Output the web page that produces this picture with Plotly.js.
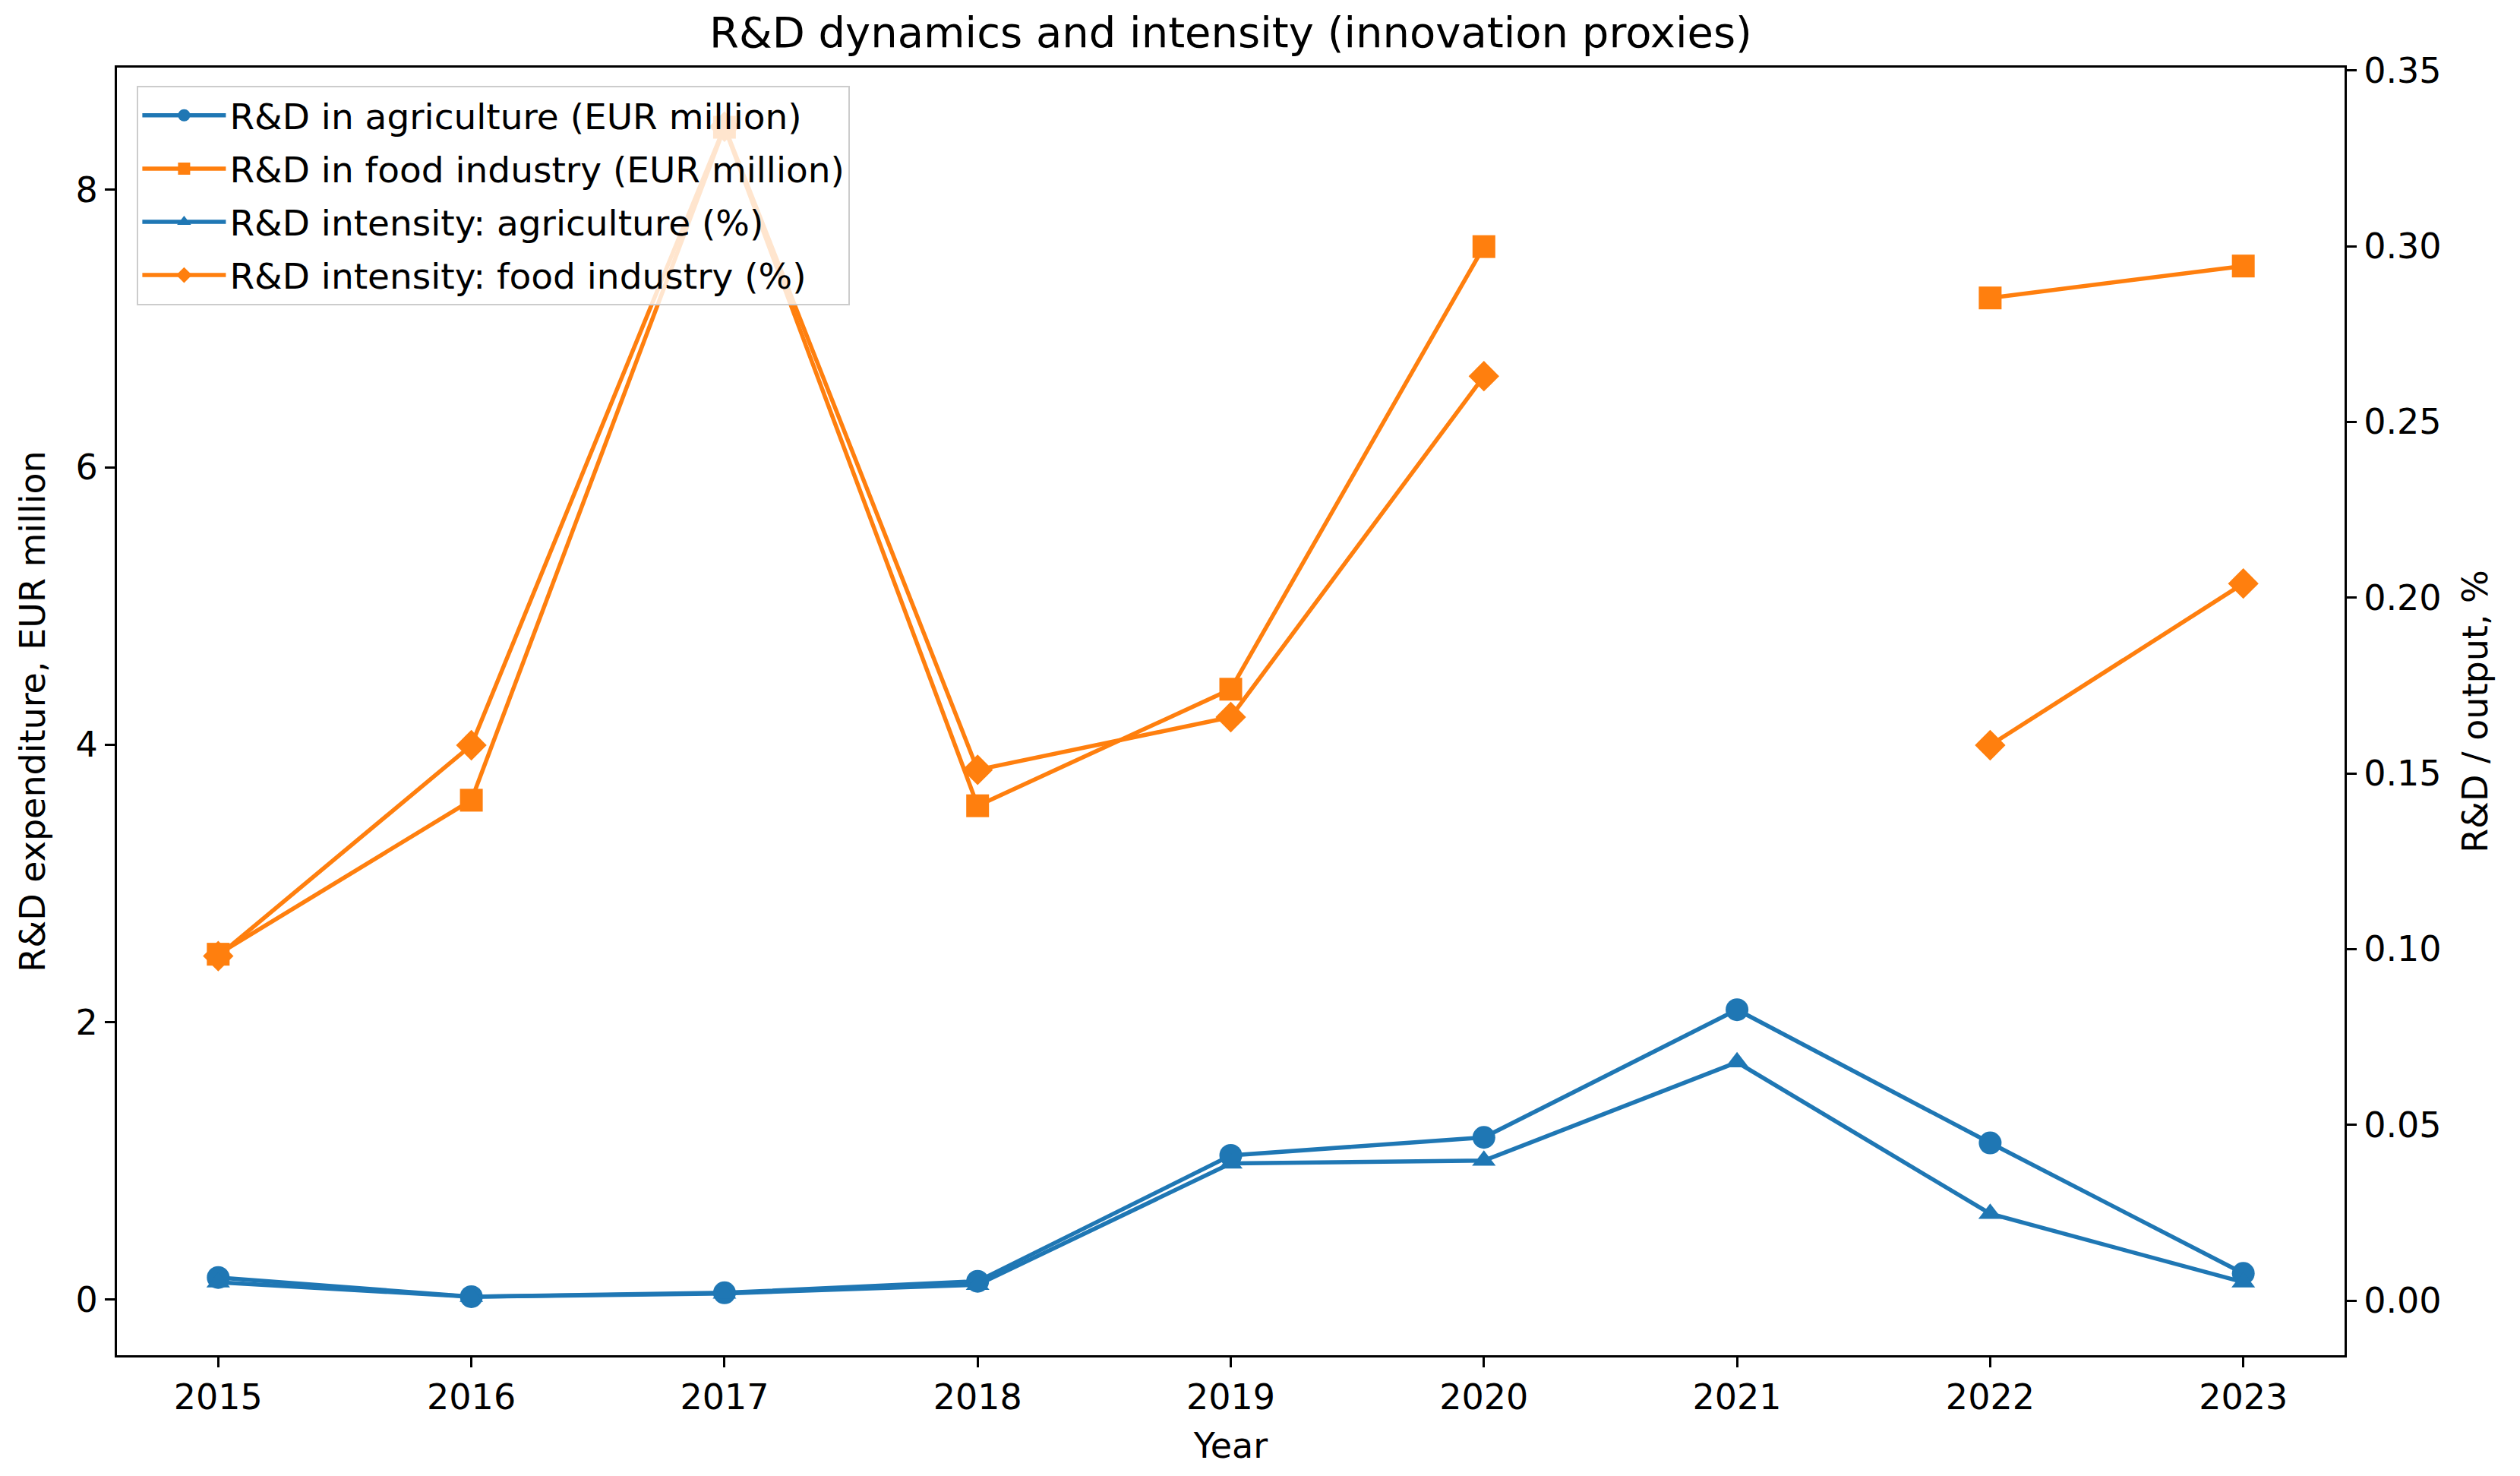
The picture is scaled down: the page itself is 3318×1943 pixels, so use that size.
<!DOCTYPE html>
<html>
<head>
<meta charset="utf-8">
<script src="https://cdn.plot.ly/plotly-3.0.1.min.js"></script>
<style>html,body{margin:0;padding:0;background:#fff;}#chart{width:3318px;height:1943px;}</style>
</head>
<body>
<div id="chart"></div>
<script>
const years = [2015, 2016, 2017, 2018, 2019, 2020, 2021, 2022, 2023];
const rdAgriculture = [0.16, 0.022, 0.05, 0.133, 1.04, 1.17, 2.09, 1.13, 0.19];
const rdFood = [2.49, 3.60, 8.45, 3.56, 4.40, 7.59, null, 7.22, 7.45];
const intensityAgriculture = [0.0052, 0.0011, 0.002, 0.0045, 0.039, 0.0398, 0.0678, 0.0247, 0.0052];
const intensityFood = [0.098, 0.158, 0.334, 0.151, 0.166, 0.263, null, 0.158, 0.204];

const seriesNames = [
  "R&D in agriculture (EUR million)",
  "R&D in food industry (EUR million)",
  "R&D intensity: agriculture (%)",
  "R&D intensity: food industry (%)"
];
const leftTicks = [0, 2, 4, 6, 8];
const rightTicks = [0, 0.05, 0.10, 0.15, 0.20, 0.25, 0.30, 0.35];

const BLUE = "#1f77b4", ORANGE = "#ff7f0e";
const FONT = "DejaVu Sans, Liberation Sans, sans-serif";
const LW = 5.5;
const FS = 46;

function tr(y, name, color, symbol, size, axis, grp) {
  return {
    x: years, y: y, name: name, type: "scatter", mode: "lines+markers",
    yaxis: axis, legendgroup: grp, connectgaps: false,
    line: {color: color, width: LW},
    marker: {color: color, symbol: symbol, size: size}
  };
}

const data = [
  tr(rdAgriculture, seriesNames[0], BLUE, "circle", 30, "y", "a"),
  tr(rdFood, seriesNames[1], ORANGE, "square", 30, "y", "b"),
  tr(intensityAgriculture, seriesNames[2], BLUE, "triangle-up", 27, "y2", "c"),
  tr(intensityFood, seriesNames[3], ORANGE, "diamond", 31, "y2", "d")
];

const axisCommon = {
  showgrid: false, zeroline: false, showline: true, linecolor: "#000", linewidth: 3,
  ticks: "outside", ticklen: 13, tickwidth: 3, tickcolor: "#000",
  tickfont: {family: FONT, size: FS, color: "#000"}
};

const layout = {
  width: 3318, height: 1943,
  margin: {l: 154, r: 231, t: 89, b: 159, pad: 0},
  paper_bgcolor: "#fff", plot_bgcolor: "#fff",
  font: {family: FONT, size: FS, color: "#000"},
  title: {text: "R&D dynamics and intensity (innovation proxies)", font: {family: FONT, size: 56, color: "#000"},
          x: 0.5, xref: "paper", xanchor: "center", y: 1 - 42/1943, yref: "container", yanchor: "middle"},
  xaxis: Object.assign({}, axisCommon, {
    range: [2014.6, 2023.4], tickvals: years, ticktext: years.map(String), mirror: true,
    title: {text: "Year", font: {family: FONT, size: FS, color: "#000"}, standoff: 22}
  }),
  yaxis: Object.assign({}, axisCommon, {
    range: [-0.40, 8.88], tickvals: leftTicks, ticktext: leftTicks.map(String),
    title: {text: "R&D expenditure, EUR million", font: {family: FONT, size: FS, color: "#000"}, standoff: 26}
  }),
  yaxis2: Object.assign({}, axisCommon, {
    overlaying: "y", side: "right",
    range: [-0.01556, 0.3508], tickvals: rightTicks, ticktext: rightTicks.map(v => v.toFixed(2)),
    title: {text: "R&D / output, %", font: {family: FONT, size: FS, color: "#000"}, standoff: 30}
  }),
  showlegend: true,
  legend: {
    x: 0.009, y: 0.986, xanchor: "left", yanchor: "top",
    bgcolor: "rgba(255,255,255,0.8)", bordercolor: "#cccccc", borderwidth: 2,
    font: {family: FONT, size: 47, color: "#000"},
    traceorder: "grouped", tracegroupgap: 6, itemwidth: 110
  }
};

Plotly.newPlot("chart", data, layout, {displayModeBar: false, staticPlot: true});
</script>
</body>
</html>
